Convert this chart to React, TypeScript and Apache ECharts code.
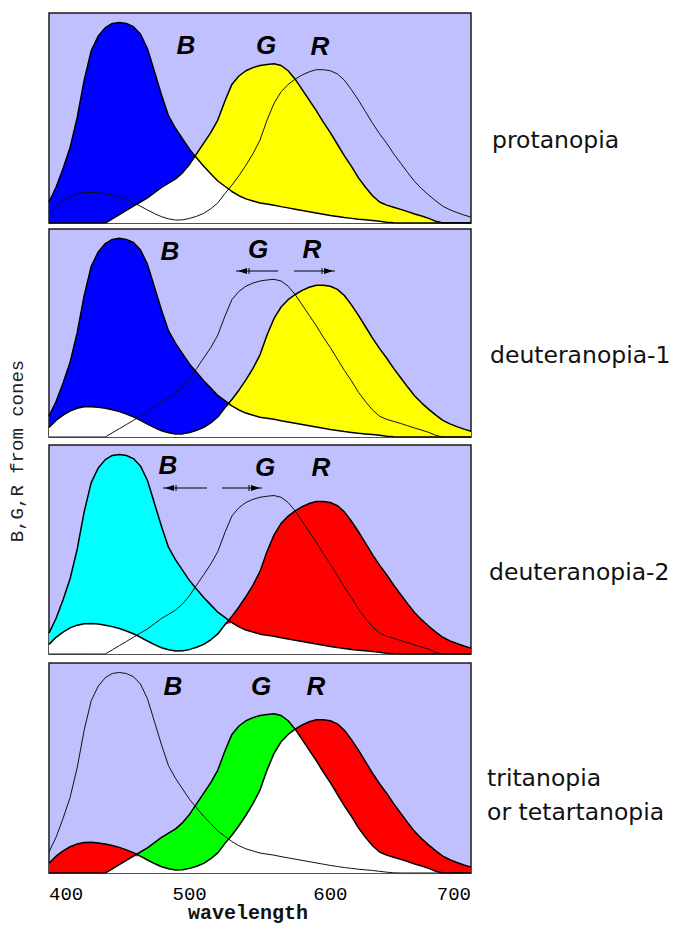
import React, { useEffect, useRef } from 'react';
import * as echarts from 'echarts';

// wavelength samples (nm)
const WAVELENGTHS = [
  400, 405, 410, 415, 420, 425, 430, 435, 440, 445, 450, 455, 460, 465, 470, 475, 480, 485, 490, 495,
  500, 505, 510, 515, 520, 525, 530, 535, 540, 545, 550, 555, 560, 565, 570, 575, 580, 585, 590, 595,
  600, 605, 610, 615, 620, 625, 630, 635, 640, 645, 650, 655, 660, 665, 670, 675, 680, 685, 690, 695, 700,
];

// cone responses (0..1 of panel height)
const B_CONE = [
  0.10, 0.17, 0.26, 0.36, 0.50, 0.68, 0.82, 0.89, 0.93, 0.95, 0.955, 0.95, 0.935, 0.90, 0.83, 0.72, 0.61, 0.51, 0.45, 0.40,
  0.35, 0.31, 0.27, 0.235, 0.20, 0.175, 0.15, 0.13, 0.115, 0.105, 0.095, 0.09, 0.085, 0.078, 0.072, 0.066, 0.06, 0.054, 0.048, 0.042,
  0.036, 0.031, 0.026, 0.022, 0.018, 0.015, 0.012, 0.008, 0.004, 0.001, 0, 0, 0, 0, 0, 0, 0, 0, 0, 0, 0,
];
const G_CONE = [
  0, 0, 0, 0, 0, 0, 0, 0, 0, 0.02, 0.04, 0.06, 0.08, 0.10, 0.12, 0.145, 0.17, 0.19, 0.21, 0.24,
  0.28, 0.33, 0.38, 0.43, 0.49, 0.58, 0.66, 0.70, 0.725, 0.74, 0.75, 0.755, 0.758, 0.75, 0.725, 0.685, 0.635, 0.585, 0.535, 0.48,
  0.43, 0.375, 0.32, 0.27, 0.215, 0.17, 0.13, 0.10, 0.085, 0.075, 0.065, 0.054, 0.043, 0.033, 0.022, 0.008, 0, 0, 0, 0, 0,
];
const R_CONE = [
  0.046, 0.08, 0.105, 0.125, 0.138, 0.145, 0.146, 0.143, 0.138, 0.131, 0.122, 0.11, 0.097, 0.08, 0.062, 0.045, 0.03, 0.02, 0.014, 0.015,
  0.022, 0.032, 0.046, 0.068, 0.096, 0.14, 0.18, 0.225, 0.275, 0.33, 0.395, 0.49, 0.57, 0.625, 0.66, 0.685, 0.705, 0.72, 0.73, 0.73,
  0.725, 0.71, 0.68, 0.635, 0.585, 0.53, 0.475, 0.425, 0.38, 0.33, 0.285, 0.24, 0.197, 0.163, 0.133, 0.105, 0.08, 0.063, 0.05, 0.038, 0.028,
];

const X_MIN = 400;
const X_MAX = 700;
const X_STEP = 100;

const PANEL_NAMES = ['protanopia', 'deuteranopia-1', 'deuteranopia-2', 'tritanopia\nor tetartanopia'];
const CONE_LETTERS = ['B', 'G', 'R'];
const Y_NAME = 'B,G,R from cones';
const X_NAME = 'wavelength';

const CURVES: Record<string, number[]> = { B: B_CONE, G: G_CONE, R: R_CONE };

// panel styling: which two cones are filled (and with which colours), which is outline only
const PANELS = [
  { p: 'B', pc: '#0000ff', q: 'G', qc: '#ffff00', o: 'R' },
  { p: 'B', pc: '#0000ff', q: 'R', qc: '#ffff00', o: 'G' },
  { p: 'B', pc: '#00ffff', q: 'R', qc: '#ff0000', o: 'G' },
  { p: 'G', pc: '#00ff00', q: 'R', qc: '#ff0000', o: 'B' },
];
const GRID_TOPS = [13, 229, 445, 663];
const GRID_HEIGHTS = [210, 208, 209, 210];
const GRID_LEFT = 49;
const GRID_WIDTH = 422;

// letter label positions (pixel centres) per panel: B, G, R
const LETTER_POS = [
  [[186, 45], [266, 45], [320, 46]],
  [[170, 251], [258, 249], [312, 249]],
  [[168, 465], [265, 467], [321, 467]],
  [[173, 686], [261, 686], [316, 686]],
];
// arrows: [x1, x2, y, direction]
const ARROWS: [number, number, number, 'left' | 'right'][] = [
  [236, 278, 271, 'left'],
  [294, 335, 271, 'right'],
  [163, 207, 488, 'left'],
  [222, 262, 488, 'right'],
];
const NAME_POS = [[492, 140], [490, 355], [489, 572], [487, 795]];

function pairs(vals: number[]) {
  return WAVELENGTHS.map((w, i) => [w, vals[i]]);
}

export default function App() {
  const ref = useRef<HTMLDivElement>(null);

  useEffect(() => {
    document.body.style.margin = '0';
    if (!ref.current) return;
    const chart = echarts.init(ref.current, undefined, { renderer: 'svg' });

    const grids: any[] = [];
    const xAxes: any[] = [];
    const yAxes: any[] = [];
    const series: any[] = [];

    PANELS.forEach((pn, i) => {
      grids.push({
        left: GRID_LEFT,
        top: GRID_TOPS[i],
        width: GRID_WIDTH,
        height: GRID_HEIGHTS[i],
        show: true,
        backgroundColor: '#c0c0ff',
        borderColor: '#1a1a1a',
        borderWidth: 1.5,
      });
      xAxes.push({
        type: 'value',
        gridIndex: i,
        min: X_MIN,
        max: X_MAX,
        interval: X_STEP,
        axisLine: { show: false },
        axisTick: { show: false },
        splitLine: { show: false },
        axisLabel: {
          show: i === 3,
          fontFamily: 'Liberation Mono',
          fontSize: 19,
          color: '#000',
          margin: 12,
          alignMinLabel: 'left',
          alignMaxLabel: 'right',
        },
      });
      yAxes.push({
        type: 'value',
        gridIndex: i,
        min: 0,
        max: 1,
        show: false,
      });
      const P = CURVES[pn.p];
      const Q = CURVES[pn.q];
      const O = CURVES[pn.o];
      const M = P.map((v, k) => Math.min(v, Q[k]));
      const areaBase = {
        type: 'line',
        xAxisIndex: i,
        yAxisIndex: i,
        showSymbol: false,
        silent: true,
        lineStyle: { opacity: 0, width: 0 },
      };
      series.push({ ...areaBase, data: pairs(P), areaStyle: { color: pn.pc, opacity: 1 } });
      series.push({ ...areaBase, data: pairs(Q), areaStyle: { color: pn.qc, opacity: 1 } });
      series.push({ ...areaBase, data: pairs(M), areaStyle: { color: '#ffffff', opacity: 1 } });
      const lineBase = {
        type: 'line',
        xAxisIndex: i,
        yAxisIndex: i,
        showSymbol: false,
        silent: true,
      };
      series.push({ ...lineBase, name: pn.o, data: pairs(O), lineStyle: { color: '#111', width: 1 } });
      series.push({ ...lineBase, name: pn.p, data: pairs(P), lineStyle: { color: '#000', width: 1.5 } });
      series.push({ ...lineBase, name: pn.q, data: pairs(Q), lineStyle: { color: '#000', width: 1.5 } });
    });

    const graphics: any[] = [];
    // y axis name
    graphics.push({
      type: 'text',
      x: 18,
      y: 451,
      rotation: Math.PI / 2,
      style: {
        text: Y_NAME,
        fontFamily: 'Liberation Mono',
        fontSize: 19,
        fill: '#222',
        align: 'center',
        verticalAlign: 'middle',
      },
    });
    // x axis name
    graphics.push({
      type: 'text',
      x: 188,
      y: 903,
      style: {
        text: X_NAME,
        fontFamily: 'Liberation Mono',
        fontWeight: 'bold',
        fontSize: 20,
        fill: '#111',
        align: 'left',
        verticalAlign: 'top',
      },
    });
    // panel names
    PANEL_NAMES.forEach((t, i) => {
      graphics.push({
        type: 'text',
        x: NAME_POS[i][0],
        y: NAME_POS[i][1],
        style: {
          text: t,
          fontFamily: 'DejaVu Sans',
          fontSize: 23.5,
          lineHeight: 34,
          fill: '#111',
          align: 'left',
          verticalAlign: 'middle',
        },
      });
    });
    // cone letters
    LETTER_POS.forEach((row) => {
      row.forEach((pos, k) => {
        graphics.push({
          type: 'text',
          x: pos[0],
          y: pos[1],
          style: {
            text: CONE_LETTERS[k],
            fontFamily: 'Liberation Sans',
            fontWeight: 'bold',
            fontStyle: 'italic',
            fontSize: 26,
            fill: '#000',
            align: 'center',
            verticalAlign: 'middle',
          },
        });
      });
    });
    // arrows
    ARROWS.forEach(([x1, x2, y, dir]) => {
      graphics.push({
        type: 'line',
        shape: { x1, y1: y, x2, y2: y },
        style: { stroke: '#000', lineWidth: 1 },
      });
      const tip = dir === 'left' ? x1 + 2 : x2 - 2;
      const back = dir === 'left' ? tip + 9 : tip - 9;
      graphics.push({
        type: 'polygon',
        shape: { points: [[tip, y], [back, y - 3], [back, y + 3]] },
        style: { fill: '#000' },
      });
      const tick = dir === 'left' ? tip + 11 : tip - 11;
      graphics.push({
        type: 'line',
        shape: { x1: tick, y1: y - 3, x2: tick, y2: y + 3 },
        style: { stroke: '#000', lineWidth: 1 },
      });
    });

    chart.setOption({
      animation: false,
      backgroundColor: '#ffffff',
      grid: grids,
      xAxis: xAxes,
      yAxis: yAxes,
      series,
      graphic: graphics,
    });

    return () => chart.dispose();
  }, []);

  return <div ref={ref} style={{ width: 692, height: 925, overflow: 'hidden' }} />;
}
